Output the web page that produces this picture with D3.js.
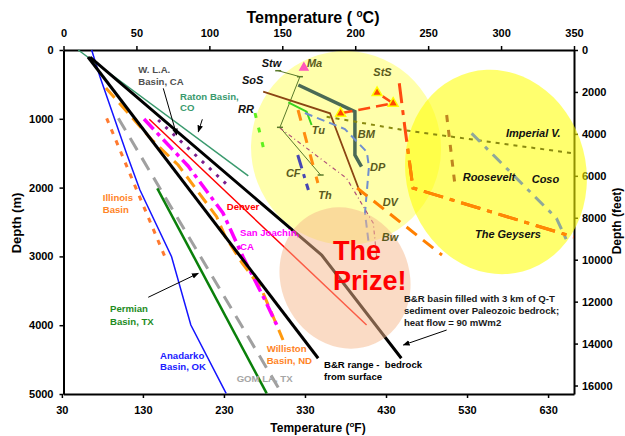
<!DOCTYPE html>
<html><head><meta charset="utf-8">
<script src="https://cdn.jsdelivr.net/npm/d3@7"></script>
<style>
html,body{margin:0;padding:0;background:#fff;}
svg{display:block;font-family:"Liberation Sans",Arial,Helvetica,sans-serif;}
</style></head><body>
<svg id="chart" width="625" height="436"></svg>
<script>
// ---- axis ticks ----
const tempTicksC = [0, 50, 100, 150, 200, 250, 300, 350];
const tempTicksF = [30, 130, 230, 330, 430, 530, 630];
const depthTicksM = [0, 1000, 2000, 3000, 4000, 5000];
const depthTicksFt = [0, 2000, 4000, 6000, 8000, 10000, 12000, 14000, 16000];

// ---- sedimentary basin profiles: [temperature °C, depth m] ----
const anadarko = [[19.3, 0], [25.0, 388], [43.3, 1507], [52.4, 2035], [74.1, 3004], [87.3, 3997], [111.5, 4990]];
const permian = [[64.3, 2010], [139.3, 4990]];
const gulfCoast = [[37.6, 993], [149.6, 4990]];
const illinois = [[29.6, 993], [47.8, 1914], [69.5, 3004]];
const rangeBedrock = [[16.8, 102], [174.6, 4480]];
const basinFill = [[18.2, 102], [177.0, 2980], [231.6, 4480]];
const raton = [[10.1, 0], [126.7, 1831]];
const westLA = [[64.9, 1017], [114.0, 1996]];
const denver = [[58.8, 1007], [207.8, 3997]];
const sanJoaquin = [[55.2, 1003], [85.4, 1686], [109.3, 2369], [123.1, 3009], [138.1, 3634], [146.2, 3997]];
const williston = [[29.1, 552], [60.7, 1308], [78.6, 1672], [105.0, 2423], [110.7, 2703], [122.4, 3096], [135.4, 3459], [150.5, 4215]];

// ---- geothermal field wells: [temperature °C, depth m] ----
const stw = [[147.2, 301], [162.1, 388], [148.4, 1124], [176.3, 1817]];
const ma = [[164.8, 257]];
const sos = [[136.9, 606], [182.7, 920], [204.0, 2108]];
const rr = [[131.3, 916], [137.6, 1468]];
const tu = [[154.1, 760], [166.7, 897], [170.1, 1090]];
const bm = [[161.0, 509], [199.8, 897], [199.8, 1526], [204.3, 1696]];
const sts = [[190.0, 920], [226.0, 775], [215.0, 621]];
const cf = [[160.6, 1526], [167.9, 2035]];
const th = [[160.8, 872], [174.4, 1933]];
const dp = [[165.5, 916], [192.9, 1148], [208.0, 1483], [209.4, 1701], [206.7, 2369], [209.4, 2834]];
const dv = [[201.3, 2006], [259.5, 2980]];
const bw = [[148.4, 1134], [194.1, 1865], [212.4, 2519], [214.7, 3004]];
const imperial = [[180.4, 970], [232.8, 1163], [349.3, 1502]];
const roosevelt = [[262.7, 945], [268.6, 2000]];
const coso = [[279.8, 1211], [338.0, 2446], [344.9, 2762]];
const geysers = [[230.2, 484], [234.0, 1119], [239.6, 2006], [349.8, 2718]];

// ---- zones: centre [°C, m], half-width °C, half-height m, tilt deg ----
const hydrothermalZone = {t: 193.7, d: 1424, rt: 65.1, rd: 1410, tilt: -10};
const vaporZone = {t: 296.5, d: 1773, rt: 61.7, rd: 1497, tilt: -15};
const prizeZone = {t: 193.0, d: 3314, rt: 43.9, rd: 1047, tilt: -25};

// ---- annotation texts ----
const basinLabels = [
  {lines: ["W. L.A.", "Basin, CA"], t: 51.3, d: 340, color: "#505050", lh: 11.7},
  {lines: ["Raton Basin,", "CO"], t: 79.9, d: 728, color: "#3a9a6e", lh: 11},
  {lines: ["Illinois", "Basin"], t: 26.9, d: 2196, color: "#ff8426", lh: 12},
  {lines: ["Denver"], t: 111.9, d: 2327, color: "#ff0000", lh: 12},
  {lines: ["San Joachin,", "CA"], t: 121.0, d: 2709, color: "#ff00ff", lh: 13.5},
  {lines: ["Permian", "Basin, TX"], t: 31.9, d: 3804, color: "#1e8c1e", lh: 13.4},
  {lines: ["Anadarko", "Basin, OK"], t: 66.2, d: 4493, color: "#2020ff", lh: 11},
  {lines: ["GOM LA, TX"], t: 118.7, d: 4831, color: "#a6a6a6", lh: 12},
  {lines: ["Williston", "Basin, ND"], t: 139.3, d: 4395, color: "#ff8426", lh: 11.7},
  {lines: ["B&R range -\u00a0 bedrock", "from surface"], t: 178.6, d: 4628, color: "#000", lh: 11.7},
  {lines: ["B&R basin filled with 3 km of Q-T", "sediment over Paleozoic bedrock;", "heat flow = 90 mWm2"], t: 233.4, d: 3658, color: "#1a1a1a", lh: 12.2}
];
const siteLabels = [
  {text: "Stw", t: 135.9, d: 251, dark: true},
  {text: "Ma", t: 166.9, d: 251},
  {text: "SoS", t: 122.4, d: 494, dark: true},
  {text: "RR", t: 119.6, d: 920, dark: true},
  {text: "Tu", t: 170.2, d: 1221},
  {text: "BM", t: 201.7, d: 1283},
  {text: "StS", t: 212.4, d: 378},
  {text: "CF", t: 152.5, d: 1850},
  {text: "DP", t: 210.1, d: 1754},
  {text: "Th", t: 174.7, d: 2166},
  {text: "DV", t: 218.8, d: 2272},
  {text: "Bw", t: 218.2, d: 2781},
  {text: "Imperial V.", t: 303.4, d: 1269, dark: true},
  {text: "Roosevelt", t: 273.7, d: 1908, dark: true},
  {text: "Coso", t: 321.0, d: 1933, dark: true},
  {text: "The Geysers", t: 282.1, d: 2737, dark: true}
];
const pointers = [
  [[68.4, 557], [77.6, 1235]],
  [[95.2, 1007], [92.4, 1188]],
  [[58.1, 3594], [92.4, 3246]],
  [[262.7, 4070], [233.0, 4288]]
];

// ---- scales ----
const x = d3.scaleLinear().domain([0, 350]).range([63.5, 574]);
const y = d3.scaleLinear().domain([0, 5000]).range([50, 394]);
const xF = d3.scaleLinear().domain([32, 350 * 1.8 + 32]).range(x.range());
const yFt = d3.scaleLinear().domain([0, 5000 * 3.28084]).range(y.range());
const plain = d3.format("d");

const svg = d3.select("#chart");
const defs = svg.append("defs");
defs.append("marker").attr("id", "arrow").attr("viewBox", "0 0 10 10")
  .attr("refX", 9).attr("refY", 5).attr("markerWidth", 7).attr("markerHeight", 7)
  .attr("orient", "auto").attr("markerUnits", "userSpaceOnUse")
  .append("path").attr("d", "M0,1 L10,5 L0,9 Z").attr("fill", "#000");

// ---- axes ----
const axes = svg.append("g");
axes.append("g").attr("transform", "translate(0,50)")
  .call(d3.axisTop(x).tickValues(tempTicksC).tickFormat(plain).tickSize(4).tickSizeOuter(0).tickPadding(9));
axes.append("g").attr("transform", "translate(0,394)")
  .call(d3.axisBottom(xF).tickValues(tempTicksF).tickFormat(plain).tickSize(4).tickSizeOuter(0).tickPadding(8));
axes.append("g").attr("transform", "translate(63.5,0)")
  .call(d3.axisLeft(y).tickValues(depthTicksM).tickFormat(plain).tickSize(4).tickSizeOuter(0).tickPadding(6));
axes.append("g").attr("transform", "translate(574,0)")
  .call(d3.axisRight(yFt).tickValues(depthTicksFt).tickFormat(plain).tickSize(4).tickSizeOuter(0).tickPadding(4));
axes.selectAll(".domain").attr("stroke", "#000").attr("stroke-width", 2);
axes.selectAll(".tick line").attr("stroke", "#000").attr("stroke-width", 1.5);
axes.selectAll(".tick text").attr("font-size", 11).attr("font-weight", "bold")
  .attr("fill", "#000").attr("font-family", "'Liberation Sans',Arial,sans-serif");

// axis titles
const topTitle = svg.append("text").attr("x", 313).attr("y", 23).attr("text-anchor", "middle")
  .attr("font-size", 16).attr("font-weight", "bold");
topTitle.append("tspan").text("Temperature ( ");
topTitle.append("tspan").attr("font-size", 10).attr("dy", -6).text("o");
topTitle.append("tspan").attr("dy", 6).text("C)");

const botTitle = svg.append("text").attr("x", 318).attr("y", 432).attr("text-anchor", "middle")
  .attr("font-size", 12).attr("font-weight", "bold");
botTitle.append("tspan").text("Temperature (");
botTitle.append("tspan").attr("font-size", 8).attr("dy", -5).text("o");
botTitle.append("tspan").attr("dy", 5).text("F)");

svg.append("text").attr("transform", "translate(20.5,223) rotate(-90)").attr("text-anchor", "middle")
  .attr("font-size", 13).attr("font-weight", "bold").text("Depth (m)");
svg.append("text").attr("transform", "translate(621,221) rotate(-90)").attr("text-anchor", "middle")
  .attr("font-size", 12).attr("font-weight", "bold").text("Depth (feet)");

// ---- zone ellipses ----
function zoneAttrs(sel, z) {
  const cx = x(z.t), cy = y(z.d);
  return sel.attr("cx", 0).attr("cy", 0)
    .attr("rx", x(z.t + z.rt) - cx).attr("ry", y(z.rd) - y(0))
    .attr("transform", `translate(${cx},${cy}) rotate(${z.tilt})`);
}
const zones = svg.append("g");
zoneAttrs(zones.append("ellipse"), vaporZone).attr("fill", "#ffff00").attr("fill-opacity", 0.57);
zoneAttrs(zones.append("ellipse"), hydrothermalZone).attr("fill", "#ffff00").attr("fill-opacity", 0.33);
zoneAttrs(defs.append("clipPath").attr("id", "vaporClip").append("ellipse"), vaporZone);

// ---- profiles ----
const line = d3.line().x(d => x(d[0])).y(d => y(d[1]));
const series = [
  {data: anadarko, color: "#1414ff", w: 1.5},
  {data: illinois, color: "#ff7a30", w: 3, dash: "5,7"},
  {data: gulfCoast, color: "#a0a0a0", w: 3, dash: "14,9"},
  {data: permian, color: "#0a800a", w: 2.5},
  {data: raton, color: "#3a9a6e", w: 1.5},
  {data: westLA, color: "#7a1e8c", w: 3, dash: "3,7"},
  {data: denver, color: "#ff0000", w: 1.5},
  {data: williston, color: "#ff9a10", w: 3, dash: "13,7"},
  {data: sanJoaquin, color: "#ff00ff", w: 3.5, dash: "14,5,4,5"},
  {data: rangeBedrock, color: "#000", w: 3},
  {data: basinFill, color: "#000", w: 3},
  {data: stw, color: "#5a7a2a", w: 1},
  {data: sos, color: "#8b4513", w: 1.8},
  {data: rr, color: "#5ef01e", w: 3, dash: "5,10"},
  {data: tu, color: "#3ad41e", w: 2},
  {data: bm, color: "#4a6a55", w: 3.5},
  {data: cf, color: "#4646b4", w: 3, dash: "14,6,4,6"},
  {data: th, color: "#ff8c10", w: 3, dash: "11,12"},
  {data: dp, color: "#6f8fd0", w: 2, dash: "8,5"},
  {data: bw, color: "#b0507a", w: 1.2, dash: "4,3,1,3"},
  {data: dv, color: "#ff8000", w: 3, dash: "13,8"},
  {data: imperial, color: "#8a8a10", w: 2, dash: "4,5"},
  {data: roosevelt, color: "#bf8520", w: 3, dash: "7,8"},
  {data: coso, color: "#8fa89a", w: 3, dash: "12,7,4,7"},
  {data: geysers, color: "#ff4a10", w: 3, dash: "20,7,5,7"},
  {data: sts, color: "#ff4a10", w: 2.5, dash: "12,6"}
];
const plot = svg.append("g");
plot.selectAll("path.profile").data(series).join("path").attr("class", "profile")
  .attr("d", s => line(s.data)).attr("fill", "none")
  .attr("stroke", s => s.color).attr("stroke-width", s => s.w)
  .attr("stroke-dasharray", s => s.dash || null);
// the Geysers profile where it runs through the vapor zone
plot.append("path").attr("d", line(geysers)).attr("fill", "none").attr("clip-path", "url(#vaporClip)")
  .attr("stroke", "#ff8a00").attr("stroke-width", 3).attr("stroke-dasharray", "20,7,5,7");

// well-log vertex ticks on the Stw trace
plot.selectAll("line.stw").data(stw).join("line").attr("class", "stw")
  .attr("x1", d => x(d[0]) - 3).attr("x2", d => x(d[0]) + 3)
  .attr("y1", d => y(d[1])).attr("y2", d => y(d[1]))
  .attr("stroke", "#5a7a2a").attr("stroke-width", 1.5);

const tri = d3.symbol().type(d3.symbolTriangle).size(42);
plot.selectAll("path.sts").data(sts).join("path").attr("class", "sts")
  .attr("d", tri).attr("transform", d => `translate(${x(d[0])},${y(d[1])})`)
  .attr("fill", "#ff4a00").attr("stroke", "#ffff00").attr("stroke-width", 1.5);
plot.selectAll("path.ma").data(ma).join("path").attr("class", "ma")
  .attr("d", d3.symbol().type(d3.symbolTriangle).size(48))
  .attr("transform", d => `translate(${x(d[0])},${y(d[1])})`)
  .attr("fill", "#ff55bb");

// ---- "prize" zone over the deep profiles ----
zoneAttrs(svg.append("ellipse"), prizeZone).attr("fill", "#f5b88c").attr("fill-opacity", 0.5);

// ---- annotations ----
const notes = svg.append("g").attr("font-weight", "bold");
basinLabels.forEach(l => {
  const t = notes.append("text").attr("x", x(l.t)).attr("y", y(l.d))
    .attr("font-size", 9.6).attr("fill", l.color);
  l.lines.forEach((s, i) => t.append("tspan").attr("x", x(l.t)).attr("dy", i ? l.lh : 0).text(s));
});
notes.selectAll("text.site").data(siteLabels).join("text").attr("class", "site")
  .attr("x", d => x(d.t)).attr("y", d => y(d.d))
  .attr("font-size", 11).attr("font-style", "italic")
  .attr("fill", d => d.dark ? "#111" : "#5a5a1c").text(d => d.text);

notes.selectAll("line.pointer").data(pointers).join("line").attr("class", "pointer")
  .attr("x1", d => x(d[0][0])).attr("y1", d => y(d[0][1]))
  .attr("x2", d => x(d[1][0])).attr("y2", d => y(d[1][1]))
  .attr("stroke", "#000").attr("stroke-width", 1).attr("marker-end", "url(#arrow)");

const prize = notes.append("text").attr("x", x(184.8)).attr("y", y(3052))
  .attr("font-size", 27).attr("fill", "#ff0000");
prize.append("tspan").attr("x", x(184.8)).text("The");
prize.append("tspan").attr("x", x(184.8)).attr("dy", 30).text("Prize!");
</script>
</body></html>
